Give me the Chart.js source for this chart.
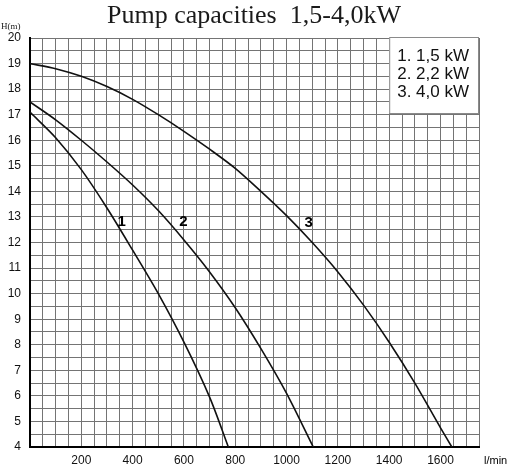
<!DOCTYPE html>
<html>
<head>
<meta charset="utf-8">
<script src="https://cdn.jsdelivr.net/npm/chart.js@4/dist/chart.umd.min.js"></script>
<style>
  html, body { margin: 0; padding: 0; background: #fff; }
  #wrap { width: 513px; height: 468px; position: relative; }
</style>
</head>
<body>
<div id="wrap"><canvas id="pump"></canvas></div>
<script>
// curves (flow l/min, head m)
const flow1 = [0, 100, 200, 300, 400, 500, 600, 700, 773];
const head1 = [17.1, 16.1, 14.85, 13.35, 11.7, 10.0, 8.1, 5.95, 4.0];

const flow2 = [0, 100, 200, 300, 400, 500, 600, 700, 800, 900, 1000, 1104];
const head2 = [17.5, 16.8, 16.0, 15.15, 14.25, 13.25, 12.1, 10.85, 9.45, 7.85, 6.1, 4.0];

const flow3 = [0, 100, 200, 300, 400, 500, 600, 700, 800, 900, 1000, 1100, 1200, 1300, 1400, 1500, 1600, 1644];
const head3 = [19.0, 18.8, 18.5, 18.1, 17.6, 17.0, 16.35, 15.65, 14.9, 14.0, 13.05, 12.0, 10.85, 9.55, 8.1, 6.5, 4.75, 4.0];

// labels on the curves
const curveNames = ['1', '2', '3'];
const nameFlow = [357, 598, 1086];
const nameHead = [12.8, 12.8, 12.75];

const legendItems = ['1. 1,5 kW', '2. 2,2 kW', '3. 4,0 kW'];
const xLabels = [200, 400, 600, 800, 1000, 1200, 1400, 1600];

function pts(xs, ys) {
  return xs.map((x, i) => ({ x: x, y: ys[i] }));
}

function curve(xs, ys) {
  return {
    data: pts(xs, ys),
    borderColor: '#111',
    borderWidth: 1.6,
    pointRadius: 0,
    fill: false,
    tension: 0.3
  };
}

// texts that are not part of the axes
const extras = {
  id: 'extras',
  afterDraw(chart) {
    const ctx = chart.ctx;
    const x = chart.scales.x, y = chart.scales.y;
    const area = chart.chartArea;
    ctx.save();

    // title
    ctx.fillStyle = '#1a1a1a';
    ctx.font = '26px "Liberation Serif", serif';
    ctx.textAlign = 'center';
    ctx.textBaseline = 'alphabetic';
    ctx.fillText('Pump capacities  1,5-4,0kW', 254, 23);

    // axis names
    ctx.font = '9px "Liberation Serif", serif';
    ctx.textAlign = 'left';
    ctx.fillText('H(m)', 1, 29);
    ctx.font = '11px "Liberation Sans", Arial, sans-serif';
    ctx.fillStyle = '#000';
    ctx.fillText('l/min', 484, 464);

    // curve numbers
    ctx.font = 'bold 15px "Liberation Sans", Arial, sans-serif';
    ctx.textAlign = 'center';
    ctx.textBaseline = 'middle';
    curveNames.forEach((n, i) => {
      ctx.fillText(n, x.getPixelForValue(nameFlow[i]), y.getPixelForValue(nameHead[i]));
    });

    // legend box
    const bx = x.getPixelForValue(1400);
    const by = area.top - 1;
    const bw = area.right - bx;
    const bh = 76;
    ctx.fillStyle = '#fff';
    ctx.fillRect(bx, by, bw, bh);
    ctx.strokeStyle = '#8a8a8a';
    ctx.lineWidth = 1;
    ctx.strokeRect(bx + 0.5, by + 0.5, bw - 1, bh);
    ctx.fillStyle = '#111';
    ctx.font = '17px "Liberation Sans", Arial, sans-serif';
    ctx.textAlign = 'left';
    legendItems.forEach((t, i) => {
      ctx.fillText(t, bx + 8, by + 19 + i * 18.4);
    });
    ctx.restore();
  }
};

new Chart(document.getElementById('pump'), {
  type: 'line',
  data: {
    datasets: [curve(flow1, head1), curve(flow2, head2), curve(flow3, head3)]
  },
  options: {
    responsive: true,
    maintainAspectRatio: false,
    animation: false,
    layout: { padding: { top: 38, right: 34, left: 0, bottom: 0 } },
    plugins: {
      legend: { display: false },
      title: { display: false },
      tooltip: { enabled: false }
    },
    scales: {
      x: {
        type: 'linear',
        min: 0,
        max: 1750,
        afterFit(s) { s.height = 21; },
        border: { color: '#000', width: 2 },
        grid: { color: '#747474', lineWidth: 1, drawTicks: false },
        ticks: {
          stepSize: 50,
          autoSkip: false,
          maxRotation: 0,
          padding: 6,
          color: '#111',
          font: { family: '"Liberation Sans", Arial, sans-serif', size: 12 },
          callback: v => xLabels.includes(v) ? String(v) : ''
        }
      },
      y: {
        type: 'linear',
        min: 4,
        max: 20,
        afterFit(s) { s.width = 30; },
        border: { color: '#000', width: 2 },
        grid: { color: '#747474', lineWidth: 1, drawTicks: false },
        ticks: {
          stepSize: 0.5,
          autoSkip: false,
          padding: 9,
          color: '#111',
          font: { family: '"Liberation Sans", Arial, sans-serif', size: 12 },
          callback: v => Number.isInteger(v) ? String(v) : ''
        }
      }
    }
  },
  plugins: [extras]
});
</script>
</body>
</html>
